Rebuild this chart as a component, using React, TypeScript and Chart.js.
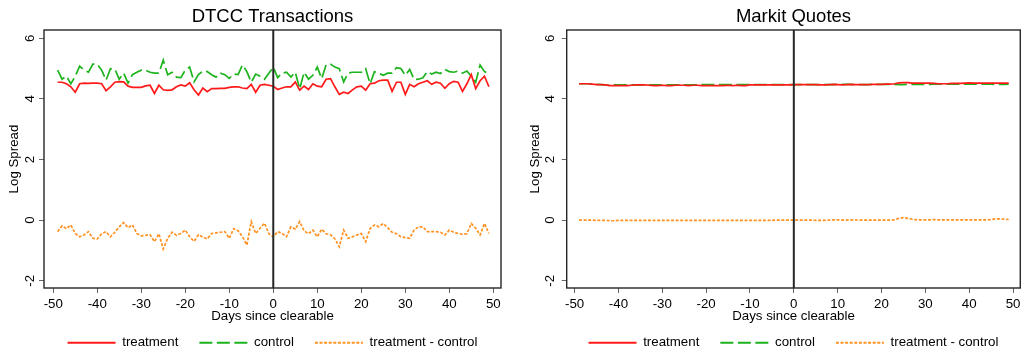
import React, { useEffect, useRef } from 'react';
import { Chart, registerables } from 'chart.js';

Chart.register(...registerables);

const FONT = '"Liberation Sans", Arial, Helvetica, sans-serif';

// ---- categories / ticks ----
const days = [
  -49, -48, -47, -46, -45, -44, -43, -42, -41, -40,
  -39, -38, -37, -36, -35, -34, -33, -32, -31, -30,
  -29, -28, -27, -26, -25, -24, -23, -22, -21, -20,
  -19, -18, -17, -16, -15, -14, -13, -12, -11, -10,
  -9, -8, -7, -6, -5, -4, -3, -2, -1, 0,
  1, 2, 3, 4, 5, 6, 7, 8, 9, 10,
  11, 12, 13, 14, 15, 16, 17, 18, 19, 20,
  21, 22, 23, 24, 25, 26, 27, 28, 29, 30,
  31, 32, 33, 34, 35, 36, 37, 38, 39, 40,
  41, 42, 43, 44, 45, 46, 47, 48, 49,
];
const xTicks = [-50, -40, -30, -20, -10, 0, 10, 20, 30, 40, 50];
const yTicks = [-2, 0, 2, 4, 6];
const eventDay = 0;
const seriesLabels = ['treatment', 'control', 'treatment - control'];
const chartTitles = ['DTCC Transactions', 'Markit Quotes'];
const xAxisTitle = 'Days since clearable';
const yAxisTitle = 'Log Spread';

// ---- DTCC Transactions ----
const dtccTreatment = [
  4.55, 4.55, 4.50, 4.40, 4.22, 4.50, 4.52, 4.51, 4.52, 4.52,
  4.50, 4.27, 4.40, 4.55, 4.57, 4.56, 4.42, 4.38, 4.38, 4.38,
  4.43, 4.45, 4.18, 4.45, 4.30, 4.28, 4.30, 4.40, 4.46, 4.42,
  4.53, 4.30, 4.13, 4.36, 4.24, 4.34, 4.34, 4.35, 4.35, 4.38,
  4.40, 4.40, 4.36, 4.34, 4.48, 4.22, 4.45, 4.48, 4.45, 4.42,
  4.31, 4.36, 4.40, 4.40, 4.56, 4.29, 4.42, 4.31, 4.50, 4.42,
  4.40, 4.65, 4.67, 4.40, 4.15, 4.22, 4.18, 4.30, 4.40, 4.42,
  4.29, 4.50, 4.52, 4.60, 4.62, 4.62, 4.25, 4.55, 4.55, 4.15,
  4.48, 4.40, 4.50, 4.55, 4.60, 4.48, 4.55, 4.52, 4.35, 4.50,
  4.58, 4.55, 4.25, 4.50, 4.80, 4.34, 4.60, 4.75, 4.40,
];
const dtccControl = [
  4.95, 4.65, 4.75, 4.50, 4.75, 5.08, 4.95, 4.88, 5.15, 5.15,
  4.95, 4.62, 5.00, 4.98, 4.65, 4.85, 4.52, 4.80, 4.88, 4.95,
  4.95, 4.88, 4.85, 4.85, 5.28, 4.80, 4.88, 4.72, 4.70, 4.95,
  5.05, 4.56, 4.80, 4.92, 4.90, 4.80, 4.72, 4.85, 4.80, 4.68,
  4.82, 4.80, 5.12, 4.90, 4.55, 4.82, 4.75, 4.65, 4.85, 5.05,
  4.70, 4.85, 4.88, 4.72, 4.88, 4.33, 4.88, 4.65, 4.78, 5.05,
  4.67, 5.12, 5.15, 5.05, 5.00, 4.56, 4.85, 4.88, 4.88, 4.88,
  5.00, 4.50, 4.90, 4.84, 4.78, 4.85, 4.85, 5.03, 5.00, 4.78,
  4.97, 4.64, 4.65, 4.70, 4.90, 4.82, 4.88, 4.84, 4.97, 4.90,
  4.88, 4.92, 4.85, 4.92, 4.75, 4.55, 5.12, 4.90, 4.84,
];
const dtccDiff = [
  -0.38, -0.19, -0.28, -0.16, -0.44, -0.55, -0.49, -0.38, -0.60, -0.62,
  -0.45, -0.38, -0.55, -0.40, -0.22, -0.08, -0.25, -0.16, -0.44, -0.52,
  -0.50, -0.48, -0.71, -0.45, -0.95, -0.60, -0.40, -0.50, -0.44, -0.33,
  -0.55, -0.70, -0.48, -0.56, -0.62, -0.44, -0.42, -0.40, -0.38, -0.60,
  -0.28, -0.35, -0.55, -0.82, -0.05, -0.44, -0.27, -0.10, -0.45, -0.55,
  -0.38, -0.44, -0.55, -0.22, -0.30, -0.05, -0.35, -0.45, -0.33, -0.55,
  -0.30, -0.45, -0.48, -0.62, -0.88, -0.33, -0.60, -0.55, -0.49, -0.44,
  -0.71, -0.28, -0.16, -0.22, -0.11, -0.25, -0.40, -0.45, -0.55, -0.58,
  -0.60, -0.33, -0.22, -0.22, -0.38, -0.38, -0.38, -0.40, -0.49, -0.33,
  -0.40, -0.44, -0.47, -0.45, -0.11, -0.27, -0.49, -0.11, -0.44,
];

// ---- Markit Quotes ----
const markitTreatment = [
  4.50, 4.50, 4.50, 4.49, 4.47, 4.47, 4.46, 4.44, 4.44, 4.44,
  4.44, 4.44, 4.45, 4.46, 4.46, 4.46, 4.45, 4.44, 4.44, 4.45,
  4.44, 4.44, 4.45, 4.45, 4.45, 4.44, 4.45, 4.45, 4.44, 4.44,
  4.44, 4.44, 4.44, 4.44, 4.45, 4.44, 4.45, 4.44, 4.44, 4.46,
  4.46, 4.46, 4.46, 4.46, 4.46, 4.46, 4.46, 4.46, 4.46, 4.47,
  4.47, 4.47, 4.47, 4.47, 4.47, 4.46, 4.46, 4.47, 4.48, 4.47,
  4.46, 4.47, 4.48, 4.47, 4.47, 4.47, 4.47, 4.48, 4.48, 4.48,
  4.49, 4.49, 4.50, 4.53, 4.54, 4.54, 4.52, 4.52, 4.52, 4.52,
  4.52, 4.51, 4.50, 4.50, 4.50, 4.51, 4.51, 4.51, 4.52, 4.53,
  4.52, 4.52, 4.52, 4.52, 4.52, 4.52, 4.52, 4.52, 4.52,
];
const markitControl = [
  4.50, 4.50, 4.50, 4.49, 4.48, 4.47, 4.46, 4.45, 4.46, 4.46,
  4.46, 4.46, 4.46, 4.46, 4.46, 4.46, 4.46, 4.46, 4.46, 4.46,
  4.46, 4.46, 4.46, 4.46, 4.46, 4.46, 4.46, 4.46, 4.47, 4.47,
  4.47, 4.47, 4.47, 4.47, 4.47, 4.47, 4.47, 4.47, 4.47, 4.47,
  4.47, 4.47, 4.47, 4.47, 4.47, 4.47, 4.47, 4.47, 4.47, 4.47,
  4.47, 4.47, 4.47, 4.47, 4.47, 4.47, 4.47, 4.47, 4.47, 4.48,
  4.48, 4.48, 4.48, 4.47, 4.47, 4.47, 4.47, 4.48, 4.48, 4.48,
  4.48, 4.48, 4.48, 4.47, 4.47, 4.48, 4.48, 4.48, 4.48, 4.48,
  4.48, 4.49, 4.49, 4.49, 4.49, 4.49, 4.49, 4.49, 4.49, 4.49,
  4.49, 4.49, 4.49, 4.49, 4.49, 4.48, 4.48, 4.48, 4.49,
];
const markitDiff = [
  0.00, 0.00, 0.00, 0.00, -0.01, -0.01, -0.01, -0.02, -0.02, -0.01,
  -0.01, -0.01, -0.01, -0.01, -0.01, -0.01, -0.01, -0.01, -0.01, -0.01,
  -0.01, -0.01, -0.01, -0.01, -0.01, -0.01, -0.01, -0.01, -0.01, -0.01,
  -0.01, -0.01, -0.01, -0.01, -0.01, -0.01, -0.01, -0.01, -0.01, -0.01,
  -0.01, -0.01, -0.01, -0.01, -0.01, 0.00, 0.00, 0.00, 0.00, 0.00,
  0.00, 0.00, 0.00, 0.00, -0.01, -0.01, -0.01, 0.00, 0.01, 0.01,
  0.00, 0.00, 0.01, 0.01, 0.00, 0.00, 0.00, 0.00, 0.00, 0.00,
  0.00, 0.00, 0.01, 0.06, 0.08, 0.06, 0.03, 0.01, 0.01, 0.01,
  0.01, 0.02, 0.01, 0.01, 0.01, 0.01, 0.01, 0.01, 0.01, 0.01,
  0.01, 0.01, 0.01, 0.01, 0.02, 0.04, 0.04, 0.03, 0.02,
];

// ---- styles ----
const COLORS = ['#ff1a1a', '#1db31d', '#ff9222'];
const DASHES: number[][] = [[], [13, 4.5], [3, 1.6]];

const framePlugin = {
  id: 'frameAndEvent',
  afterDatasetsDraw(chart: any) {
    const { ctx, chartArea, scales } = chart;
    const { left, right, top, bottom } = chartArea;
    ctx.save();
    const x0 = scales.x.getPixelForValue(eventDay);
    ctx.strokeStyle = '#262626';
    ctx.lineWidth = 2;
    ctx.setLineDash([]);
    ctx.beginPath();
    ctx.moveTo(x0, top);
    ctx.lineTo(x0, bottom);
    ctx.stroke();
    ctx.strokeStyle = '#262626';
    ctx.lineWidth = 1.4;
    ctx.strokeRect(left, top, right - left, bottom - top);
    ctx.restore();
  },
};

type Geom = {
  yWidth: number;
  padRight: number;
  yTitlePad: number;
  yTickPad: number;
  xMin: number;
  xMax: number;
};

function makeConfig(title: string, series: number[][], g: Geom): any {
  const font = { family: FONT, size: 13.3 };
  return {
    type: 'line',
    data: {
      datasets: series.map((vals, i) => ({
        label: seriesLabels[i],
        data: days.map((d, k) => ({ x: d, y: vals[k] })),
        borderColor: COLORS[i],
        backgroundColor: COLORS[i],
        borderWidth: 1.7,
        borderDash: DASHES[i],
        pointRadius: 0,
        tension: 0,
        fill: false,
      })),
    },
    options: {
      responsive: false,
      animation: false,
      devicePixelRatio: 1,
      layout: { padding: { left: 0, right: g.padRight, top: 0, bottom: -5.35 } },
      plugins: {
        title: {
          display: true,
          text: title,
          fullSize: false,
          color: '#000',
          font: { family: FONT, size: 18.5, weight: 'normal' },
          padding: { top: 5.9, bottom: 1.9 },
        },
        legend: {
          position: 'bottom',
          fullSize: false,
          labels: {
            usePointStyle: true,
            pointStyle: 'line',
            pointStyleWidth: 48,
            padding: 21,
            color: '#000',
            font,
            generateLabels: (chart: any) =>
              chart.data.datasets.map((ds: any, i: number) => ({
                text: ds.label,
                fillStyle: 'rgba(0,0,0,0)',
                strokeStyle: ds.borderColor,
                lineWidth: 2,
                lineDash: ds.borderDash,
                lineCap: 'butt',
                pointStyle: 'line',
                hidden: false,
                datasetIndex: i,
                fontColor: '#000',
              })),
          },
        },
        tooltip: { enabled: false },
      },
      scales: {
        x: {
          type: 'linear',
          min: g.xMin,
          max: g.xMax,
          afterBuildTicks: (s: any) => {
            s.ticks = xTicks.map((v) => ({ value: v }));
          },
          afterFit: (s: any) => {
            s.height = 27.05;
          },
          grid: { display: true, drawOnChartArea: false, drawTicks: true, tickLength: 5, color: '#666', lineWidth: 1 },
          border: { display: false },
          ticks: { color: '#000', font, padding: 3.5, maxRotation: 0, autoSkip: false },
          title: { display: true, text: xAxisTitle, color: '#000', font, padding: { top: 0, bottom: -8.9 } },
        },
        y: {
          type: 'linear',
          min: -2.24,
          max: 6.274,
          afterBuildTicks: (s: any) => {
            s.ticks = yTicks.map((v) => ({ value: v }));
          },
          afterFit: (s: any) => {
            s.width = g.yWidth;
          },
          grid: { display: true, drawOnChartArea: false, drawTicks: true, tickLength: 5, color: '#666', lineWidth: 1 },
          border: { display: false },
          ticks: {
            color: '#000',
            font,
            padding: g.yTickPad,
            minRotation: 90,
            maxRotation: 90,
            crossAlign: 'center',
            autoSkip: false,
          },
          title: { display: true, text: yAxisTitle, color: '#000', font, padding: { top: g.yTitlePad, bottom: 0 } },
        },
      },
    },
    plugins: [framePlugin],
  };
}

export default function App() {
  const leftRef = useRef<HTMLCanvasElement>(null);
  const rightRef = useRef<HTMLCanvasElement>(null);

  useEffect(() => {
    const charts: Chart[] = [];
    if (leftRef.current) {
      charts.push(
        new Chart(
          leftRef.current,
          makeConfig(chartTitles[0], [dtccTreatment, dtccControl, dtccDiff], {
            yWidth: 44,
            padRight: 11,
            yTitlePad: 6,
            yTickPad: 3,
            xMin: -52.1,
            xMax: 51.75,
          })
        )
      );
    }
    if (rightRef.current) {
      charts.push(
        new Chart(
          rightRef.current,
          makeConfig(chartTitles[1], [markitTreatment, markitControl, markitDiff], {
            yWidth: 54.7,
            padRight: 0.7,
            yTitlePad: 15.8,
            yTickPad: 5.8,
            xMin: -51.8,
            xMax: 51.65,
          })
        )
      );
    }
    return () => charts.forEach((c) => c.destroy());
  }, []);

  return (
    <div
      style={{
        position: 'fixed',
        left: 0,
        top: 0,
        width: 1024,
        height: 354,
        display: 'flex',
        background: '#fff',
        overflow: 'hidden',
      }}
    >
      <canvas ref={leftRef} width={512} height={354} style={{ width: 512, height: 354, display: 'block' }} />
      <canvas ref={rightRef} width={512} height={354} style={{ width: 512, height: 354, display: 'block' }} />
    </div>
  );
}
